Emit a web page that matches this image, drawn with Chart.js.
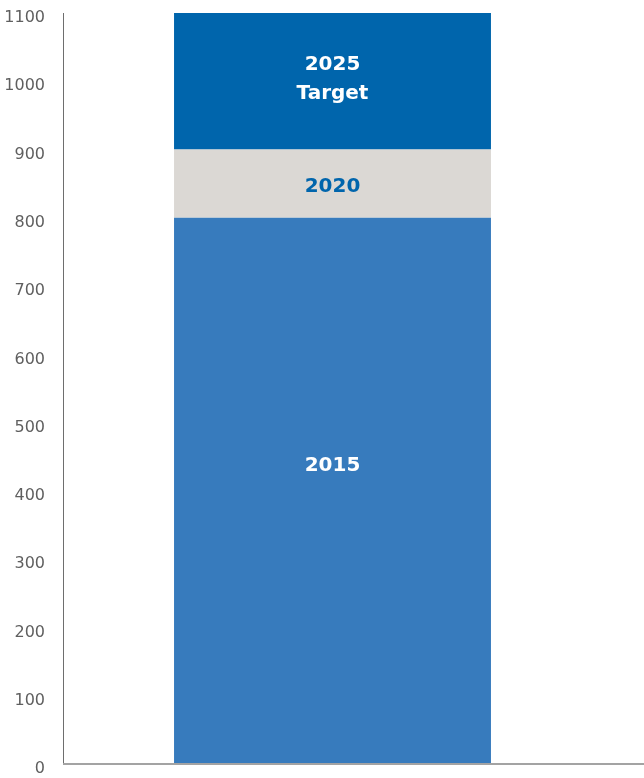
<!DOCTYPE html>
<html>
<head>
<meta charset="utf-8">
<script src="https://cdn.jsdelivr.net/npm/chart.js@4"></script>
<style>
  html, body { margin: 0; padding: 0; background: #fff; }
  #wrap { width: 644px; height: 778px; }
</style>
</head>
<body>
<div id="wrap"><canvas id="stackChart"></canvas></div>
<script>
// values
const categories = ['Total'];
const seriesNames = ['2015', '2020', '2025\nTarget'];
const values2015 = [800];
const values2020 = [100];
const values2025 = [200];
const yMax = 1100;
const yStep = 100;

const barColors = ['#377bbd', '#dbd8d4', '#0065ac'];
const labelColors = ['#ffffff', '#0065ac', '#ffffff'];
const labelShift = [-25, 3, -2];

// writes the series name inside each segment
const segmentLabels = {
    id: 'segmentLabels',
    afterDatasetsDraw(chart) {
        const ctx = chart.ctx;
        ctx.save();
        ctx.font = 'bold 20px "DejaVu Sans"';
        ctx.textAlign = 'center';
        ctx.textBaseline = 'middle';
        chart.data.datasets.forEach((ds, i) => {
            const el = chart.getDatasetMeta(i).data[0];
            const lines = ds.label.split('\n');
            const mid = (el.y + el.base) / 2 + labelShift[i];
            ctx.fillStyle = labelColors[i];
            lines.forEach((line, k) => {
                ctx.fillText(line, el.x, mid + (k - (lines.length - 1) / 2) * 29);
            });
        });
        ctx.restore();
    }
};

// baseline runs to the right edge of the canvas
const baseLine = {
    id: 'baseLine',
    afterDraw(chart) {
        const ctx = chart.ctx;
        const y = chart.scales.y.getPixelForValue(0);
        ctx.save();
        ctx.strokeStyle = '#a3a3a3';
        ctx.lineWidth = 2;
        ctx.beginPath();
        ctx.moveTo(chart.chartArea.left, y);
        ctx.lineTo(chart.width, y);
        ctx.stroke();
        ctx.restore();
    }
};

const datasets = [values2015, values2020, values2025].map((vals, i) => ({
    label: seriesNames[i],
    data: vals,
    backgroundColor: barColors[i],
    borderWidth: 0,
    barPercentage: 0.588,
    categoryPercentage: 1
}));

new Chart(document.getElementById('stackChart'), {
    type: 'bar',
    data: { labels: categories, datasets: datasets },
    plugins: [segmentLabels, baseLine],
    options: {
        responsive: true,
        maintainAspectRatio: false,
        animation: false,
        layout: { padding: { top: 13, right: 42, bottom: 14, left: 0 } },
        plugins: {
            legend: { display: false },
            tooltip: { enabled: false }
        },
        scales: {
            x: {
                stacked: true,
                display: false
            },
            y: {
                stacked: true,
                min: 0,
                max: yMax,
                ticks: {
                    stepSize: yStep,
                    padding: 10,
                    labelOffset: 5,
                    color: '#5f5f5f',
                    font: { family: 'DejaVu Sans', size: 16 },
                    callback: (v) => String(v)
                },
                grid: { display: false },
                border: { display: true, color: '#6e6e6e', width: 1 },
                afterFit(scale) {
                    scale.width = 63;
                    scale.paddingTop = 0;
                    scale.paddingBottom = 0;
                }
            }
        }
    }
});
</script>
</body>
</html>
